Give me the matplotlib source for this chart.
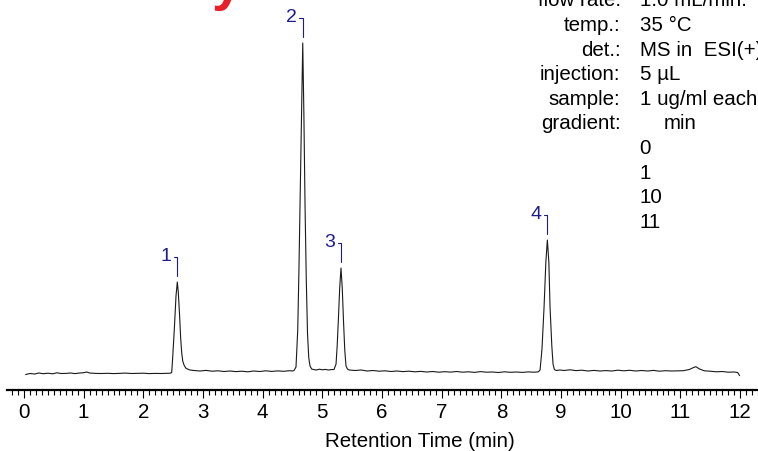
import matplotlib
matplotlib.use("Agg")
import matplotlib.pyplot as plt
from matplotlib.ticker import MultipleLocator
import numpy as np

plt.rcParams['font.family'] = ['Liberation Sans', 'DejaVu Sans']

# ---- chromatogram trace (time in min, detector signal, arbitrary units) ----
time_min = [0.03, 0.10, 0.18, 0.25, 0.32, 0.40, 0.48, 0.55, 0.62, 0.70, 0.78, 0.85, 0.92,
            1.00, 1.05, 1.10, 1.20, 1.30, 1.40, 1.50, 1.60, 1.70, 1.80, 1.90, 2.00, 2.10,
            2.20, 2.30, 2.40, 2.45, 2.475, 2.49, 2.52, 2.547, 2.569, 2.585, 2.606, 2.625,
            2.643, 2.66, 2.681, 2.71, 2.74, 2.78, 2.85, 2.95, 3.05, 3.15, 3.25, 3.35, 3.45,
            3.55, 3.65, 3.75, 3.85, 3.95, 4.05, 4.15, 4.25, 4.35, 4.45, 4.50, 4.525, 4.558,
            4.587, 4.606, 4.626, 4.65, 4.671, 4.69, 4.709, 4.73, 4.751, 4.772, 4.793, 4.82,
            4.85, 4.90, 4.95, 5.00, 5.05, 5.10, 5.15, 5.195, 5.229, 5.248, 5.267, 5.29,
            5.312, 5.333, 5.354, 5.375, 5.396, 5.42, 5.45, 5.55, 5.65, 5.75, 5.85, 5.95,
            6.05, 6.15, 6.25, 6.35, 6.45, 6.55, 6.65, 6.75, 6.85, 6.95, 7.05, 7.15, 7.25,
            7.35, 7.45, 7.55, 7.65, 7.75, 7.85, 7.95, 8.05, 8.15, 8.25, 8.35, 8.45, 8.55,
            8.62, 8.648, 8.68, 8.715, 8.745, 8.770, 8.795, 8.815, 8.845, 8.865, 8.887, 8.92,
            8.98, 9.05, 9.15, 9.25, 9.35, 9.45, 9.55, 9.65, 9.75, 9.85, 9.95, 10.05, 10.15,
            10.25, 10.35, 10.45, 10.55, 10.65, 10.75, 10.85, 10.95, 11.05, 11.15, 11.22,
            11.26, 11.32, 11.40, 11.50, 11.60, 11.70, 11.80, 11.90, 11.96, 11.99]
signal = [-0.5, 0.5, 0.0, 1.0, 0.3, 0.8, 0.2, 1.2, 0.5, 0.6, 1.0, 0.4, 0.9,
          1.3, 2.0, 1.0, 0.6, 0.5, 0.7, 0.4, 0.6, 0.9, 0.5, 0.6, 0.8, 0.4,
          0.6, 0.5, 0.7, 0.8, 1.5, 15, 46, 78, 92, 82, 60, 36,
          21, 13, 9, 6, 5, 4, 3.5, 3.0, 3.6, 2.8, 3.2, 2.5, 3.0,
          2.4, 2.8, 2.2, 3.0, 2.5, 3.2, 2.6, 3.1, 2.7, 3.3, 3.0, 3.5, 7,
          44, 100, 170, 260, 331, 260, 170, 95, 40, 16, 8, 5,
          4.5, 4.0, 4.8, 4.2, 4.6, 4.0, 4.4, 4.5, 10, 28, 53, 86,
          106, 86, 53, 24, 8, 5, 4, 3.5, 4.0, 3.0, 3.5, 2.8,
          3.2, 2.5, 3.0, 2.4, 2.8, 2.2, 2.6, 2.0, 2.5, 1.8, 2.3, 1.9, 2.5,
          1.8, 2.2, 1.6, 2.4, 1.8, 2.0, 1.5, 2.2, 1.7, 2.0, 1.6, 2.1, 1.8,
          2.2, 4, 25, 67, 112, 134, 112, 67, 28, 10, 4.5, 3.5,
          4.0, 3.5, 4.2, 3.4, 3.8, 3.0, 3.6, 3.0, 3.4, 3.0, 3.8, 3.2, 3.7,
          3.0, 3.5, 3.0, 3.6, 2.8, 3.3, 3.0, 3.2, 3.3, 4.5, 6.5,
          7.3, 5.0, 3.2, 2.8, 2.2, 2.5, 1.8, 2.0, 1.5, -1.5]

# ---- peak labels ----
peak_labels = ["1", "2", "3", "4"]
peak_rt = [2.569, 4.671, 5.312, 8.770]

# ---- method conditions ----
cond_names = ["flow rate:", "temp.:", "det.:", "injection:", "sample:", "gradient:", "", "", "", ""]
cond_values = ["1.0 mL/min.", "35 °C", "MS in  ESI(+)", "5 µL", "1 ug/ml each", "", "0", "1", "10", "11"]
gradient_header = "min"

x_ticks = list(range(0, 13))
x_label = "Retention Time (min)"

W, H = 758, 451
fig = plt.figure(figsize=(W / 100, H / 100), dpi=100)
ax = fig.add_axes([7 / W, 61 / H, 751 / W, 390 / H])
ax.set_xlim(-0.285, 12.30)
ax.set_ylim(-16, 374)

ax.plot(time_min, signal, color='#1a1a1a', lw=0.8)

for s in ['top', 'left', 'right']:
    ax.spines[s].set_visible(False)
ax.spines['bottom'].set_linewidth(1.6)
ax.set_yticks([])
ax.set_xticks(x_ticks)
ax.set_xticklabels([str(v) for v in x_ticks])
ax.xaxis.set_minor_locator(MultipleLocator(0.1))
ax.tick_params(axis='x', which='major', direction='out', length=5.8, width=0.8,
               labelsize=14.8, pad=3.2, colors='black')
ax.tick_params(axis='x', which='minor', direction='out', length=3.6, width=0.8)

fig.text(420 / W, 1 - 447 / H, x_label, ha='center', va='baseline', fontsize=14.8)

# peak annotations
navy = '#1c1c8e'
t_arr = np.array(time_min)
for lab, rt in zip(peak_labels, peak_rt):
    h = signal[int(np.argmin(np.abs(t_arr - rt)))]
    ax.annotate(lab, xy=(rt, h), xytext=(-4.5, 19.5), textcoords='offset points',
                ha='right', va='center_baseline', fontsize=14, color=navy,
                arrowprops=dict(arrowstyle='-', color=navy, lw=0.8,
                                connectionstyle='angle,angleA=0,angleB=90,rad=0',
                                relpos=(1.0, 0.5), shrinkA=0, shrinkB=4.3))

# method block
for i, (nm, val) in enumerate(zip(cond_names, cond_values)):
    yb = 1 - (6.4 + 24.6 * i) / H
    if nm:
        fig.text(620.5 / W, yb, nm, ha='right', va='baseline', fontsize=14.8)
    if val:
        fig.text(639.5 / W, yb, val, ha='left', va='baseline', fontsize=14.8)
fig.text(664 / W, 1 - (6.4 + 24.6 * 5) / H, gradient_header, ha='left', va='baseline', fontsize=14.8)

# red title (mostly above the visible area)
fig.text(212 / W, 1 + 1 / H, "y", ha='left', va='baseline', fontsize=40,
         color='#e8202a', fontweight='bold')

fig.savefig("out.png", dpi=100)
